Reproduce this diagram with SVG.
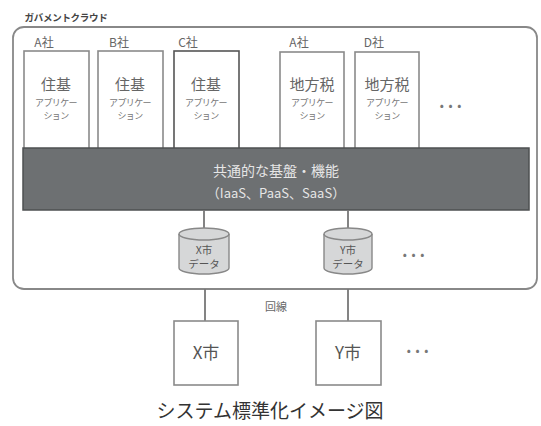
<svg xmlns="http://www.w3.org/2000/svg" width="541" height="426" viewBox="0 0 541 426">
<style>
text{font-family:"Noto Sans CJK JP","Noto Sans",sans-serif;text-anchor:middle;fill:#555}
.box{fill:#fff;stroke:#8a8a8a;stroke-width:1.6}
.dark{stroke:#555}
.co{font-size:12px;fill:#666}
.big{font-size:15px;fill:#666}
.sm{font-size:9px;fill:#777;letter-spacing:-0.6px}
.ln{stroke:#777;stroke-width:1.8;fill:none}
.cyl{fill:#d6d7d8;stroke:#888;stroke-width:1.4}
.dots{font-size:12px;fill:#777;letter-spacing:1px}
</style>
<rect width="541" height="426" fill="#fff"/>
<text x="66" y="21" style="font-size:9.5px;font-weight:bold;fill:#444;letter-spacing:-0.3px">ガバメントクラウド</text>
<g id="cloud">
<rect x="13" y="27" width="524" height="262" rx="11" fill="#fff" stroke="#888" stroke-width="1.8"/>
</g>
<g id="app-a1">
<text class="co" x="44" y="47">A社</text>
<rect class="box" x="24" y="51" width="65" height="100"/>
<text class="big" x="56" y="90">住基</text>
<text class="sm" x="56" y="106">アプリケー</text>
<text class="sm" x="56" y="119">ション</text>
</g>
<g id="app-b">
<text class="co" x="119" y="47">B社</text>
<rect class="box" x="98" y="51" width="65" height="100"/>
<text class="big" x="130" y="90">住基</text>
<text class="sm" x="130" y="106">アプリケー</text>
<text class="sm" x="130" y="119">ション</text>
</g>
<g id="app-c">
<text class="co" x="188" y="47">C社</text>
<rect class="box dark" x="174" y="51" width="65" height="100"/>
<text class="big" x="206" y="90">住基</text>
<text class="sm" x="206" y="106">アプリケー</text>
<text class="sm" x="206" y="119">ション</text>
</g>
<g id="app-a2">
<text class="co" x="299" y="47">A社</text>
<rect class="box" x="280" y="52" width="64" height="99"/>
<text class="big" x="312" y="90">地方税</text>
<text class="sm" x="312" y="106">アプリケー</text>
<text class="sm" x="312" y="119">ション</text>
</g>
<g id="app-d">
<text class="co" x="374" y="47">D社</text>
<rect class="box" x="355" y="52" width="64" height="99"/>
<text class="big" x="387" y="90">地方税</text>
<text class="sm" x="387" y="106">アプリケー</text>
<text class="sm" x="387" y="119">ション</text>
</g>
<text class="dots" x="451" y="110">• • •</text>
<g id="platform">
<rect x="23" y="148" width="506" height="62" fill="#6d7072" stroke="#4e5052" stroke-width="1.5"/>
<text x="276" y="176" style="font-size:14px;fill:#e6e6e6">共通的な基盤・機能</text>
<text x="276" y="198" style="font-size:13px;fill:#e6e6e6">（IaaS、PaaS、SaaS）</text>
</g>
<g id="connectors">
<line class="ln" x1="204" y1="210" x2="204" y2="230"/>
<line class="ln" x1="348" y1="210" x2="348" y2="230"/>
<line class="ln" x1="205" y1="289" x2="205" y2="321"/>
<line class="ln" x1="348" y1="289" x2="348" y2="321"/>
</g>
<g id="data-x">
<path class="cyl" d="M179 234 v34 a25 6 0 0 0 50 0 v-34 a25 6 0 0 0 -50 0 z"/>
<path d="M179 234 a25 6 0 0 0 50 0" fill="none" stroke="#888" stroke-width="1.4"/>
<text x="204" y="254" style="font-size:10.5px;fill:#555">X市</text>
<text x="204" y="268" style="font-size:10.5px;fill:#555">データ</text>
</g>
<g id="data-y">
<path class="cyl" d="M324 234 v34 a24 6 0 0 0 48 0 v-34 a24 6 0 0 0 -48 0 z"/>
<path d="M324 234 a24 6 0 0 0 48 0" fill="none" stroke="#888" stroke-width="1.4"/>
<text x="348" y="254" style="font-size:10.5px;fill:#555">Y市</text>
<text x="348" y="268" style="font-size:10.5px;fill:#555">データ</text>
</g>
<text class="dots" x="414" y="259">• • •</text>
<text x="276" y="311" style="font-size:11px;fill:#666">回線</text>
<g id="city-x">
<rect class="box" x="174" y="321" width="64" height="64"/>
<text x="206" y="359" style="font-size:17px;fill:#555">X市</text>
</g>
<g id="city-y">
<rect class="box" x="316" y="321" width="65" height="64"/>
<text x="348" y="359" style="font-size:17px;fill:#555">Y市</text>
</g>
<text class="dots" x="418" y="355">• • •</text>
<text x="270" y="418" style="font-size:19px;fill:#333">システム標準化イメージ図</text>
</svg>
